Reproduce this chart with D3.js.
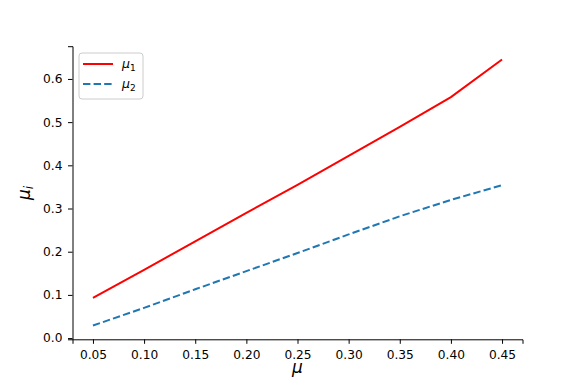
<!DOCTYPE html>
<html><head><meta charset="utf-8">
<script src="https://cdn.jsdelivr.net/npm/d3@7"></script>
<style>body{margin:0;background:#fff}svg{display:block;font-family:"DejaVu Sans",sans-serif}</style>
</head><body><svg id="c" width="581" height="388"></svg>
<script>
const mu = [0.05,0.10,0.15,0.20,0.25,0.30,0.35,0.40,0.45];
const mu1 = [0.093,0.158,0.224,0.290,0.355,0.422,0.489,0.558,0.645];
const mu2 = [0.029,0.070,0.113,0.155,0.197,0.240,0.282,0.320,0.354];
const xTicks = [0.05,0.10,0.15,0.20,0.25,0.30,0.35,0.40,0.45];
const yTicks = [0.0,0.1,0.2,0.3,0.4,0.5,0.6];

const svg = d3.select("#c");
const L=72.5, R=522.5, T=46.2, B=339.3;
const x = d3.scaleLinear().domain([0.03,0.47]).range([L,R]);
const y = d3.scaleLinear().domain([-0.0028,0.6758]).range([B,T]);

const xa = svg.append("g").attr("transform",`translate(0,${B})`)
  .call(d3.axisBottom(x).tickValues(xTicks).tickFormat(d3.format(".2f")).tickSizeOuter(0).tickSize(4.5).tickPadding(6.5));
const ya = svg.append("g").attr("transform",`translate(${L},0)`)
  .call(d3.axisLeft(y).tickValues(yTicks).tickFormat(d3.format(".1f")).tickSizeOuter(0).tickSize(4.5).tickPadding(5.5));
[xa,ya].forEach(a=>{
  a.selectAll("text").attr("font-family","DejaVu Sans").attr("font-size",12.2).attr("fill","#000");
  a.selectAll("line").attr("stroke","#000").attr("stroke-width",1);
  a.select(".domain").attr("stroke","#000").attr("stroke-width",1);
});

const line = d3.line().x((d,i)=>x(mu[i])).y(d=>y(d));
svg.append("path").datum(mu1).attr("d",line).attr("fill","none")
  .attr("stroke","#ff0000").attr("stroke-width",2);
svg.append("path").datum(mu2).attr("d",line).attr("fill","none")
  .attr("stroke","#1f77b4").attr("stroke-width",2).attr("stroke-dasharray","7.4,3.2");

// axis labels
svg.append("text").attr("x",(L+R)/2).attr("y",373).attr("text-anchor","middle")
  .attr("font-size",17).attr("font-style","italic").text("μ");
const yl = svg.append("text").attr("transform","translate(30,193) rotate(-90)").attr("text-anchor","middle")
  .attr("font-size",17);
yl.append("tspan").attr("font-style","italic").text("μ");
yl.append("tspan").attr("font-style","italic").attr("font-size",12).attr("dy",3).text("i");

// legend
const lg = svg.append("g");
lg.append("rect").attr("x",79).attr("y",53).attr("width",64).attr("height",46).attr("rx",3)
  .attr("fill","#fff").attr("fill-opacity",0.8).attr("stroke","#ccc").attr("stroke-width",1);
const items = [{n:"1",c:"#ff0000",dash:null,y:64},{n:"2",c:"#1f77b4",dash:"7.4,3.2",y:84}];
items.forEach(it=>{
  lg.append("line").attr("x1",83).attr("x2",113).attr("y1",it.y).attr("y2",it.y)
    .attr("stroke",it.c).attr("stroke-width",2).attr("stroke-dasharray",it.dash);
  const t = lg.append("text").attr("x",122).attr("y",it.y+4).attr("font-size",12.5);
  t.append("tspan").attr("font-style","italic").text("μ");
  t.append("tspan").attr("font-size",9).attr("dy",3).text(it.n);
});
</script></body></html>
